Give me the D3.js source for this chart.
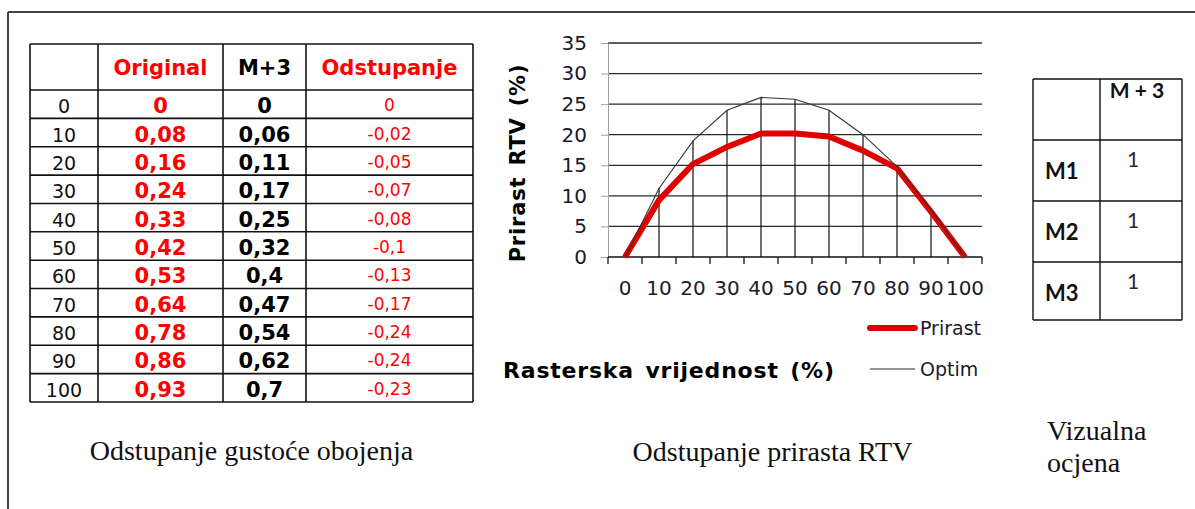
<!DOCTYPE html>
<html>
<head>
<meta charset="utf-8">
<script src="https://cdn.jsdelivr.net/npm/d3@7"></script>
<style>
  html, body { margin: 0; padding: 0; background: #fff; }
  svg { display: block; }
</style>
</head>
<body>
<svg id="c" width="1195" height="509"></svg>
<script>
// ---------- DATA ----------
const rasterValues = [0, 10, 20, 30, 40, 50, 60, 70, 80, 90, 100];
const originalDensity = [0, 0.08, 0.16, 0.24, 0.33, 0.42, 0.53, 0.64, 0.78, 0.86, 0.93];
const m3Density = [0, 0.06, 0.11, 0.17, 0.25, 0.32, 0.4, 0.47, 0.54, 0.62, 0.7];
const deviation = [0, -0.02, -0.05, -0.07, -0.08, -0.1, -0.13, -0.17, -0.24, -0.24, -0.23];
const tableHeaders = ["", "Original", "M+3", "Odstupanje"];

const prirast = [0, 9.3, 15.2, 18, 20.2, 20.2, 19.7, 17.4, 14.5, 7.4, 0];
const optim = [0, 11.2, 19, 24, 26.1, 25.8, 24, 20, 14.8, 7.8, 0];
const yTicks = [0, 5, 10, 15, 20, 25, 30, 35];

const visualRows = ["M1", "M2", "M3"];
const visualHeader = "M + 3";
const visualScores = [1, 1, 1];

const fmt = v => String(v).replace(".", ",");

const svg = d3.select("#c");

// outer frame (top and left edges)
svg.append("line").attr("x1", 8).attr("x2", 1195).attr("y1", 12).attr("y2", 12)
  .attr("stroke", "#444").attr("stroke-width", 2);
svg.append("line").attr("x1", 8).attr("x2", 8).attr("y1", 12).attr("y2", 509)
  .attr("stroke", "#444").attr("stroke-width", 2);

// ---------- LEFT TABLE ----------
const colEdges = [30, 98, 223, 306, 473];
const tTop = 44, headerBottom = 90, tBottom = 402;
const rowScale = d3.scaleBand().domain(d3.range(rasterValues.length)).range([headerBottom, tBottom]);
const t1 = svg.append("g");
const hLines = [tTop, headerBottom].concat(d3.range(rasterValues.length).map(i => rowScale(i) + rowScale.bandwidth()));
t1.selectAll("line.h").data(hLines).join("line")
  .attr("x1", colEdges[0]).attr("x2", colEdges[4]).attr("y1", d => d).attr("y2", d => d)
  .attr("stroke", "#111").attr("stroke-width", 1.6);
t1.selectAll("line.v").data(colEdges).join("line").attr("class", "v")
  .attr("x1", d => d).attr("x2", d => d).attr("y1", tTop).attr("y2", tBottom)
  .attr("stroke", "#111").attr("stroke-width", 1.6);

const colCenter = i => (colEdges[i] + colEdges[i + 1]) / 2;
const headerColors = ["#000", "#ff0000", "#000", "#ff0000"];
t1.selectAll("text.hdr").data(tableHeaders).join("text").attr("class", "hdr")
  .attr("x", (d, i) => colCenter(i)).attr("y", (tTop + headerBottom) / 2 + 1)
  .attr("text-anchor", "middle").attr("dominant-baseline", "central")
  .attr("font-family", "DejaVu Sans, Verdana, sans-serif").attr("font-weight", "bold")
  .attr("font-size", 21).attr("fill", (d, i) => headerColors[i]).text(d => d);

const rowsG = t1.selectAll("g.row").data(rasterValues).join("g").attr("class", "row")
  .attr("transform", (d, i) => `translate(0,${rowScale(i) + rowScale.bandwidth() / 2 + 2})`);
rowsG.append("text").attr("x", colCenter(0)).attr("text-anchor", "middle").attr("dominant-baseline", "central")
  .attr("font-family", "DejaVu Sans, Verdana, sans-serif").attr("font-size", 19).attr("fill", "#111")
  .text(d => d);
rowsG.append("text").attr("x", colCenter(1)).attr("text-anchor", "middle").attr("dominant-baseline", "central")
  .attr("font-family", "DejaVu Sans, Verdana, sans-serif").attr("font-weight", "bold").attr("font-size", 21)
  .attr("fill", "#ff0000").text((d, i) => fmt(originalDensity[i]));
rowsG.append("text").attr("x", colCenter(2)).attr("text-anchor", "middle").attr("dominant-baseline", "central")
  .attr("font-family", "DejaVu Sans, Verdana, sans-serif").attr("font-weight", "bold").attr("font-size", 21)
  .attr("fill", "#000").text((d, i) => fmt(m3Density[i]));
rowsG.append("text").attr("x", colCenter(3)).attr("text-anchor", "middle").attr("dominant-baseline", "central")
  .attr("font-family", "DejaVu Sans, Verdana, sans-serif").attr("font-size", 17)
  .attr("fill", "#ff0000").attr("dy", -1).text((d, i) => fmt(deviation[i]));

svg.append("text").attr("x", 251.5).attr("y", 460).attr("text-anchor", "middle")
  .attr("font-family", "Liberation Serif, Times New Roman, serif").attr("font-size", 28)
  .attr("fill", "#111").text("Odstupanje gustoće obojenja");

// ---------- CHART ----------
const plotL = 608, plotR = 982, plotT = 43, plotB = 257;
const x = d3.scaleBand().domain(rasterValues).range([plotL, plotR]);
const y = d3.scaleLinear().domain([0, 35]).range([plotB, plotT]);
const cx = d => x(d) + x.bandwidth() / 2;
const ch = svg.append("g");

// gridlines
ch.selectAll("line.grid").data(yTicks.filter(t => t > 0)).join("line").attr("class", "grid")
  .attr("x1", plotL).attr("x2", plotR).attr("y1", d => y(d)).attr("y2", d => y(d))
  .attr("stroke", "#2a2a2a").attr("stroke-width", 1.3);

// y axis (gray)
const yAxis = d3.axisLeft(y).tickValues(yTicks).tickSize(7).tickPadding(14);
const yg = ch.append("g").attr("transform", `translate(${plotL},0)`).call(yAxis);
yg.select(".domain").attr("stroke", "#a0a0a0");
yg.selectAll(".tick line").attr("stroke", "#a0a0a0");
yg.selectAll(".tick text").attr("font-family", "DejaVu Sans, Verdana, sans-serif")
  .attr("font-size", 20).attr("fill", "#1a1a2a");

// drop lines
ch.selectAll("line.drop").data(rasterValues).join("line").attr("class", "drop")
  .attr("x1", d => cx(d)).attr("x2", d => cx(d))
  .attr("y1", (d, i) => y(Math.max(prirast[i], optim[i]))).attr("y2", plotB)
  .attr("stroke", "#111").attr("stroke-width", 1.2);

// x axis
const edges = rasterValues.map(d => x(d)).concat([plotR]);
ch.append("line").attr("x1", plotL).attr("x2", plotR).attr("y1", plotB).attr("y2", plotB)
  .attr("stroke", "#111").attr("stroke-width", 1.5);
ch.selectAll("line.xt").data(edges).join("line").attr("class", "xt")
  .attr("x1", d => d).attr("x2", d => d).attr("y1", plotB).attr("y2", plotB + 7)
  .attr("stroke", "#111").attr("stroke-width", 1.3);
ch.selectAll("text.xl").data(rasterValues).join("text").attr("class", "xl")
  .attr("x", d => cx(d)).attr("y", 295).attr("text-anchor", "middle")
  .attr("font-family", "DejaVu Sans, Verdana, sans-serif").attr("font-size", 20)
  .attr("fill", "#1a1a2a").text(d => d);

// series lines
const line = d3.line().x((d, i) => cx(rasterValues[i])).y(d => y(d));
ch.append("path").datum(prirast).attr("d", line).attr("fill", "none")
  .attr("stroke", "#e00000").attr("stroke-width", 6).attr("stroke-linejoin", "round");
ch.append("path").datum(optim).attr("d", line).attr("fill", "none")
  .attr("stroke", "#333").attr("stroke-width", 1.1);

// axis titles
ch.append("text").attr("transform", "translate(525,163) rotate(-90)").attr("text-anchor", "middle")
  .attr("font-family", "DejaVu Sans, Verdana, sans-serif").attr("font-weight", "bold").attr("font-size", 21)
  .style("word-spacing", "3px").style("letter-spacing", "0.8px")
  .attr("fill", "#000").text("Prirast RTV (%)");
ch.append("text").attr("x", 503).attr("y", 378)
  .attr("font-family", "DejaVu Sans, Verdana, sans-serif").attr("font-weight", "bold").attr("font-size", 22)
  .style("word-spacing", "3px").style("letter-spacing", "0.8px")
  .attr("fill", "#000").text("Rasterska vrijednost (%)");

// legend
const legend = [
  { name: "Prirast", color: "#e00000", w: 6, y: 328, cap: "round" },
  { name: "Optim", color: "#222", w: 1.2, y: 369, cap: "butt" }
];
const lg = ch.selectAll("g.lg").data(legend).join("g").attr("class", "lg");
lg.append("line").attr("x1", 870).attr("x2", 915).attr("y1", d => d.y).attr("y2", d => d.y)
  .attr("stroke", d => d.color).attr("stroke-width", d => d.w).attr("stroke-linecap", d => d.cap);
lg.append("text").attr("x", 920).attr("y", d => d.y).attr("dominant-baseline", "central")
  .attr("font-family", "DejaVu Sans, Verdana, sans-serif").attr("font-size", 19).attr("fill", "#1a1a2a")
  .text(d => d.name);

svg.append("text").attr("x", 772.5).attr("y", 461).attr("text-anchor", "middle")
  .attr("font-family", "Liberation Serif, Times New Roman, serif").attr("font-size", 28)
  .attr("fill", "#111").text("Odstupanje prirasta RTV");

// ---------- RIGHT TABLE ----------
const rCols = [1033, 1100, 1182];
const rRows = [79, 140, 201, 262, 320];
const t2 = svg.append("g");
t2.selectAll("line.h").data(rRows).join("line").attr("class", "h")
  .attr("x1", rCols[0]).attr("x2", rCols[2]).attr("y1", d => d).attr("y2", d => d)
  .attr("stroke", "#111").attr("stroke-width", 1.4);
t2.selectAll("line.v").data(rCols).join("line").attr("class", "v")
  .attr("x1", d => d).attr("x2", d => d).attr("y1", rRows[0]).attr("y2", rRows[4])
  .attr("stroke", "#111").attr("stroke-width", 1.4);
t2.append("text").attr("x", 1137).attr("y", 98).attr("text-anchor", "middle")
  .attr("font-family", "Lato, Open Sans, sans-serif").attr("font-weight", "bold").attr("font-size", 21)
  .attr("fill", "#111").text(visualHeader);
t2.selectAll("text.rl").data(visualRows).join("text").attr("class", "rl")
  .attr("x", 1045).attr("y", (d, i) => rRows[i + 1] + 39)
  .attr("font-family", "Lato, Open Sans, sans-serif").attr("font-weight", "bold").attr("font-size", 22)
  .attr("fill", "#111").text(d => d);
t2.selectAll("text.rv").data(visualScores).join("text").attr("class", "rv")
  .attr("x", 1133).attr("y", (d, i) => rRows[i + 1] + 27).attr("text-anchor", "middle")
  .attr("font-family", "Lato, Open Sans, sans-serif").attr("font-size", 21)
  .attr("fill", "#1f2a44").text(d => d);

svg.append("text").attr("x", 1047).attr("y", 440)
  .attr("font-family", "Liberation Serif, Times New Roman, serif").attr("font-size", 28)
  .attr("fill", "#111").text("Vizualna");
svg.append("text").attr("x", 1047).attr("y", 472)
  .attr("font-family", "Liberation Serif, Times New Roman, serif").attr("font-size", 28)
  .attr("fill", "#111").text("ocjena");
</script>
</body>
</html>
